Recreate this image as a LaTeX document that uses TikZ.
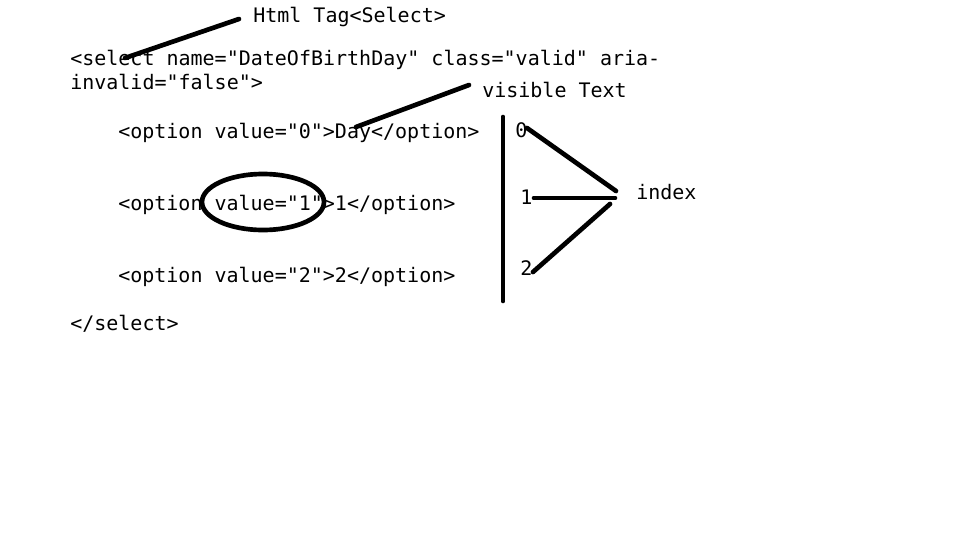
\documentclass[tikz,border=0pt]{standalone}
\usepackage{fontspec}
\setmonofont{DejaVu Sans Mono}
\usepackage{tikz}

\begin{document}
\begin{tikzpicture}[x=0.75pt,y=-0.75pt,
	code/.style={anchor=base west,inner sep=0pt,font=\ttfamily\fontsize{15}{18}\selectfont},
	pen/.style={line width=3.5pt,line cap=round}]
	\useasboundingbox (0,0) rectangle (972,550);
	% the html text
	\node[code] (tagnote) at (253,22) {Html Tag<Select>};
	\node[code] (selopen) at (70,65) {<select name="DateOfBirthDay" class="valid" aria-};
	\node[code] (selcont) at (70,89) {invalid="false">};
	\node[code] (visnote) at (482,97) {visible Text};
	\node[code] (opt0) at (118,138) {<option value="0">Day</option>};
	\node[code] (opt1) at (118,210) {<option value="1">1</option>};
	\node[code] (opt2) at (118,282) {<option value="2">2</option>};
	\node[code] (selclose) at (70,330) {</select>};
	% indices
	\node[code] (idx0) at (515,137) {0};
	\node[code] (idx1) at (520,204) {1};
	\node[code] (idx2) at (520,275) {2};
	\node[code] (idxnote) at (636,199) {index};
	\coordinate (selhook) at (125,58);
	\coordinate (tagend) at (239,19);
	\coordinate (dayhook) at (356,127);
	\coordinate (visend) at (469,85);
	\coordinate (bartop) at (503,117);
	\coordinate (barbot) at (503,301);
	\coordinate (from0) at (527,128);
	\coordinate (from1) at (534,198);
	\coordinate (from2) at (533,272);
	\coordinate (hub0) at (616,191);
	\coordinate (hub1) at (615,198);
	\coordinate (hub2) at (610,204);
	% pointers
	\draw[pen] (selhook) -- (tagend);
	\draw[pen] (dayhook) -- (visend);
	\draw[pen] (263,202) ellipse [x radius=45.75pt,y radius=21pt];
	\draw[pen] (bartop) -- (barbot);
	\draw[pen] (from0) -- (hub0);
	\draw[pen] (from1) -- (hub1);
	\draw[pen] (from2) -- (hub2);
\end{tikzpicture}
\end{document}
